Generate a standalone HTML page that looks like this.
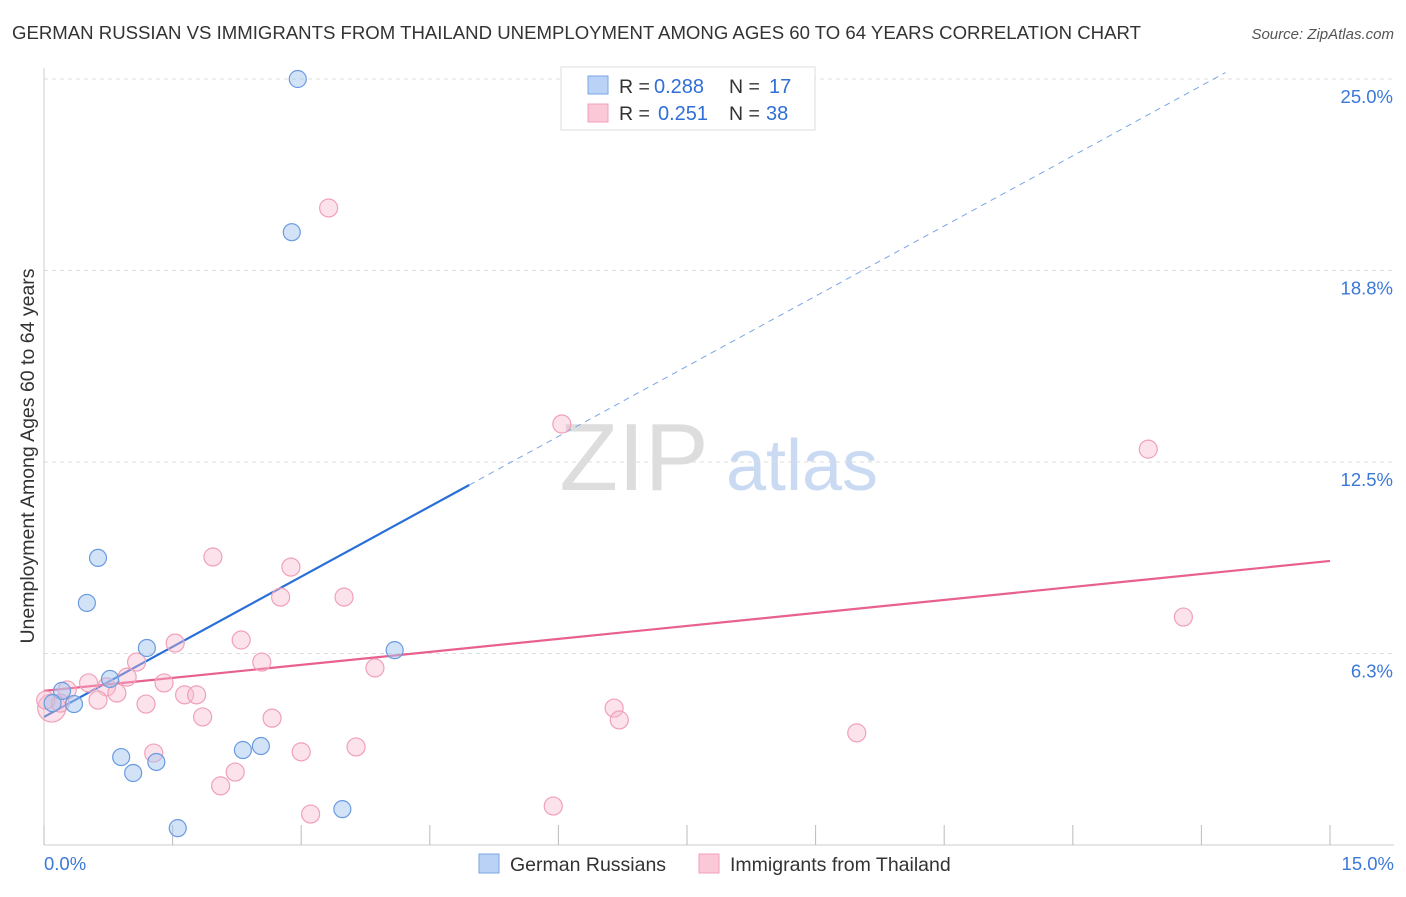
<!DOCTYPE html>
<html><head><meta charset="utf-8"><style>
body{margin:0;background:#fff;font-family:"Liberation Sans",sans-serif;}
svg text{font-family:"Liberation Sans",sans-serif;}
</style></head><body>
<svg id="chart" width="1406" height="892">
<text x="12" y="39" font-size="18.6" fill="#333">GERMAN RUSSIAN VS IMMIGRANTS FROM THAILAND UNEMPLOYMENT AMONG AGES 60 TO 64 YEARS CORRELATION CHART</text>
<text x="1394" y="39" font-size="15" fill="#555" font-style="italic" text-anchor="end">Source: ZipAtlas.com</text>
<text transform="translate(34,456) rotate(-90)" font-size="19.5" fill="#333" text-anchor="middle">Unemployment Among Ages 60 to 64 years</text>
<g><text x="634" y="490" font-size="96" fill="#ddd" font-family="Liberation Serif" text-anchor="middle">ZIP</text><text x="802" y="490" font-size="72" fill="#c9daf2" text-anchor="middle">atlas</text></g>
<g id="grid"></g><g id="axes"></g><g id="trends"></g><g id="pts"></g>
<g>
<rect x="561" y="67" width="254" height="63" fill="#fff" stroke="#ddd"/>
<rect x="588" y="76" width="20" height="18" fill="#b9d2f5" stroke="#7aa6e6"/>
<rect x="588" y="104" width="20" height="18" fill="#fbc8d7" stroke="#f0a0b8"/>
<text x="619" y="93" font-size="19.5" fill="#333">R =</text><text x="654" y="93" font-size="20" fill="#2f6fd6">0.288</text>
<text x="729" y="93" font-size="19.5" fill="#333">N =</text><text x="769" y="93" font-size="20" fill="#2f6fd6">17</text>
<text x="619" y="120" font-size="19.5" fill="#333">R =</text><text x="658" y="120" font-size="20" fill="#2f6fd6">0.251</text>
<text x="729" y="120" font-size="19.5" fill="#333">N =</text><text x="766" y="120" font-size="20" fill="#2f6fd6">38</text>
</g>
<g>
<rect x="479" y="854" width="20" height="19" fill="#b9d2f5" stroke="#7aa6e6"/>
<text x="510" y="871" font-size="19.5" fill="#333">German Russians</text>
<rect x="699" y="854" width="20" height="19" fill="#fbc8d7" stroke="#f0a0b8"/>
<text x="730" y="871" font-size="19.5" fill="#333">Immigrants from Thailand</text>
</g>
</svg>
<script>
const yTicks=[25,18.75,12.5,6.25];
const yTickLabels=["25.0%","18.8%","12.5%","6.3%"];
const xTickLabels=["0.0%","15.0%"];
const blueX=[2.96,2.89,0.63,0.50,1.20,4.09,0.77,0.21,0.35,0.10,0.90,1.31,1.04,2.32,2.53,3.48,1.56];
const blueY=[25.0,20.0,9.37,7.90,6.43,6.36,5.42,5.03,4.60,4.63,2.87,2.71,2.35,3.10,3.23,1.17,0.55];
const pinkX=[3.32,6.04,12.88,1.97,2.88,2.76,3.50,13.29,1.53,2.30,2.54,1.08,3.86,0.97,1.40,0.52,0.73,0.27,0.85,1.64,1.78,0.63,1.19,1.85,2.66,6.65,6.71,9.48,3.64,1.28,3.00,2.23,2.06,5.94,3.11,0.09,0.19,0.02];
const pinkY=[20.79,13.74,12.92,9.40,9.07,8.09,8.09,7.44,6.59,6.69,5.97,5.97,5.78,5.48,5.29,5.29,5.16,5.06,4.96,4.90,4.90,4.73,4.60,4.18,4.14,4.47,4.08,3.66,3.20,3.00,3.04,2.38,1.93,1.27,1.01,4.47,4.63,4.73];
const blueTrend=[4.18,1.526];
const pinkTrend=[5.03,9.27];
const NS="http://www.w3.org/2000/svg";
const X=v=>44+v*1286/15, Y=v=>845-v*766/25;
function mk(t,a,p){const e=document.createElementNS(NS,t);for(const k in a)e.setAttribute(k,a[k]);p.appendChild(e);return e;}
const grid=document.getElementById('grid'),axes=document.getElementById('axes'),tr=document.getElementById('trends'),pts=document.getElementById('pts');
yTicks.forEach((t,i)=>{
 const l=mk('line',{x1:44,x2:1394,y1:Y(t),y2:Y(t),stroke:'#ddd','stroke-dasharray':'4,4'},grid);
 
 
 const tx=mk('text',{x:1393,y:Y(t)+24,'font-size':18.5,fill:'#3b78d8','text-anchor':'end'},grid);
 tx.textContent=yTickLabels[i];
 
 
});
mk('line',{x1:44,x2:44,y1:68,y2:845,stroke:'#ccc'},axes);
mk('line',{x1:44,x2:1394,y1:845,y2:845,stroke:'#ccc'},axes);
for(let i=0;i<=10;i++){const l=mk('line',{x1:X(i*1.5),x2:X(i*1.5),y1:825,y2:845,stroke:'#bbb'},axes);
 
 }
[[0,'start',44],[15,'end',1394]].forEach((d,i)=>{const t=mk('text',{x:d[2],y:870,'font-size':18.5,fill:'#3b78d8','text-anchor':d[1]},axes);t.textContent=xTickLabels[i];
 
 });
const bEnd=4.96, bDashEnd=13.78;
let l=mk('line',{x1:X(0),y1:Y(blueTrend[0]),x2:X(bEnd),y2:Y(blueTrend[0]+blueTrend[1]*bEnd),stroke:'#2a6fd8','stroke-width':2.2},tr);


l=mk('line',{x1:X(bEnd),y1:Y(blueTrend[0]+blueTrend[1]*bEnd),x2:X(bDashEnd),y2:Y(blueTrend[0]+blueTrend[1]*bDashEnd),stroke:'#7aa6e6','stroke-width':1,'stroke-dasharray':'6,5'},tr);


l=mk('line',{x1:X(0),y1:Y(pinkTrend[0]),x2:X(15),y2:Y(pinkTrend[1]),stroke:'#e8608e','stroke-width':2.2},tr);


pinkX.forEach((x,i)=>{const c=mk('circle',{cx:X(x),cy:Y(pinkY[i]),r:i==35?14:9,fill:'rgba(248,185,205,0.4)',stroke:'#f0a0b8','stroke-width':1.2},pts);
 
 });
blueX.forEach((x,i)=>{const c=mk('circle',{cx:X(x),cy:Y(blueY[i]),r:8.5,fill:'rgba(165,198,240,0.5)',stroke:'#6a9be0','stroke-width':1.2},pts);
 
 });
</script>
</body></html>
